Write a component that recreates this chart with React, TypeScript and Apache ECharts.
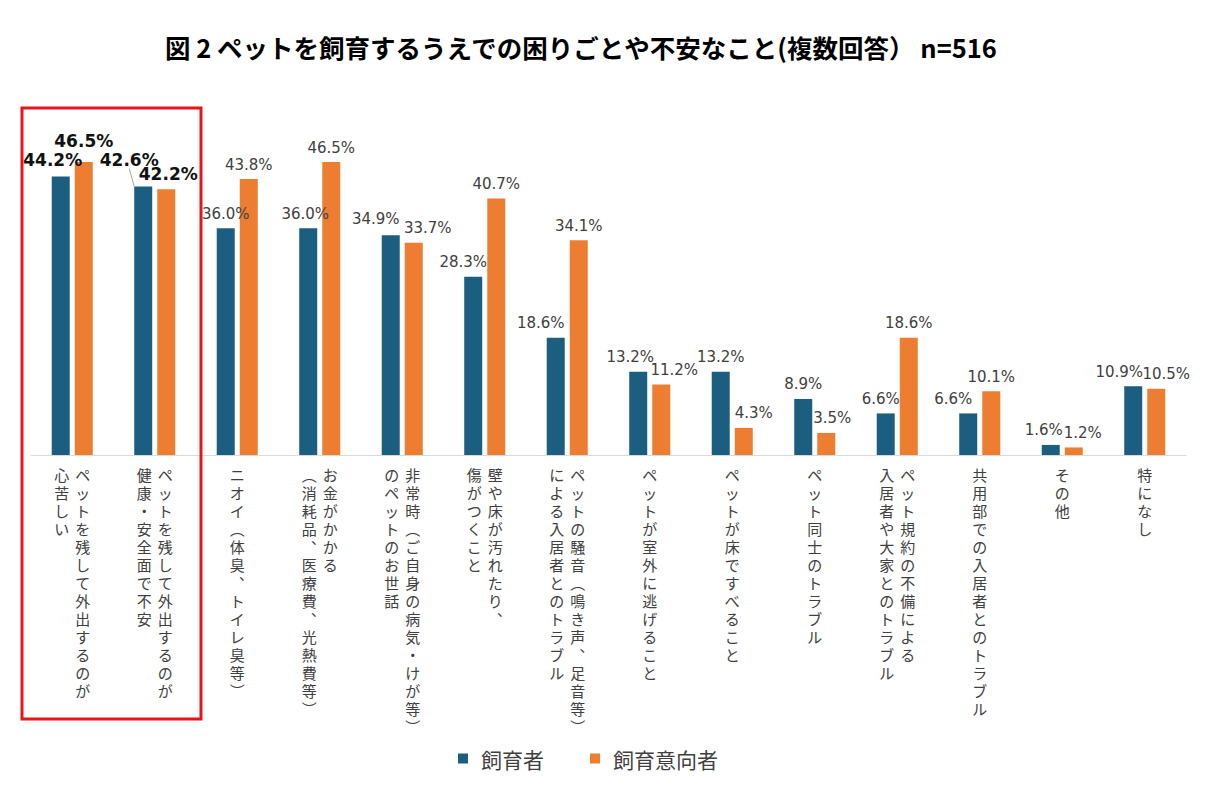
import React, { useEffect, useRef } from "react";
import * as echarts from "echarts";

const TITLE = "図 2 ペットを飼育するうえでの困りごとや不安なこと(複数回答） n=516";

// "\n" separates the two vertical columns (first = right column)
const categories = [
  "ペットを残して外出するのが\n心苦しい",
  "ペットを残して外出するのが\n健康・安全面で不安",
  "ニオイ（体臭、トイレ臭等）",
  "お金がかかる\n（消耗品、医療費、光熱費等）",
  "非常時（ご自身の病気・けが等）\nのペットのお世話",
  "壁や床が汚れたり、\n傷がつくこと",
  "ペットの騒音（鳴き声、足音等）\nによる入居者とのトラブル",
  "ペットが室外に逃げること",
  "ペットが床ですべること",
  "ペット同士のトラブル",
  "ペット規約の不備による\n入居者や大家とのトラブル",
  "共用部での入居者とのトラブル",
  "その他",
  "特になし",
];

const seriesNames = ["飼育者", "飼育意向者"];
const owners = [44.2, 42.6, 36.0, 36.0, 34.9, 28.3, 18.6, 13.2, 13.2, 8.9, 6.6, 6.6, 1.6, 10.9];
const prospective = [46.5, 42.2, 43.8, 46.5, 33.7, 40.7, 34.1, 11.2, 4.3, 3.5, 18.6, 10.1, 1.2, 10.5];

// label nudges (style only)
const ownersDX = [-8, -14, 0, -3, -15, -10, -15, -8, 0, 0, -5, -15, -7, -14];
const prospDX = [0, 2, 0, 0, 14, 0, 0, 13, 10, 6, 0, 0, 9, 10];
const ownersDY = [-1, -11, 0, 0, -2, 0, 0, 0, 0, 0, 0, 0, 0, 0];
const prospDY = [-6, 0, 0, 0, 0, 0, 0, 0, 0, 0, 0, 0, 0, 0];

const BLUE = "#1b5e80";
const ORANGE = "#ed7d31";
const TEXT = "#404040";
const FONT = "'Noto Sans CJK JP', 'Noto Sans', sans-serif";
const NUMFONT = "'DejaVu Sans', Verdana, sans-serif";

const VMAP: Record<string, string> = { "（": "︵", "）": "︶", "、": "︑" };

function verticalLabel(value: string): string {
  const cols = value.split("\n").map((c) => Array.from(c).map((ch) => VMAP[ch] || ch));
  const n = Math.max(...cols.map((c) => c.length));
  const lines: string[] = [];
  for (let i = 0; i < n; i++) {
    if (cols.length === 1) {
      lines.push(`{s|${cols[0][i] || "　"}}`);
    } else {
      lines.push(`{l|${cols[1][i] || "　"}}{r|${cols[0][i] || "　"}}`);
    }
  }
  return lines.join("\n");
}

export default function App() {
  const ref = useRef<HTMLDivElement>(null);
  useEffect(() => {
    if (!ref.current) return;
    const chart = echarts.init(ref.current, undefined, { renderer: "svg" });
    const colStyle = { fontSize: 15, lineHeight: 18, width: 21, align: "center", color: TEXT, fontFamily: FONT };
    const boldIdx = (i: number) => i < 2;
    const makeData = (vals: number[]) =>
      vals.map((v, i) => ({
        value: v,
        label: boldIdx(i)
          ? { fontSize: 17, fontWeight: "bold", color: "#111", fontFamily: NUMFONT }
          : undefined,
      }));
    const ownersData: any[] = makeData(owners);
    ownersData[1].labelLine = { show: true, lineStyle: { color: "#a6a6a6", width: 1 } };

    const labelBase = {
      show: true,
      position: "top",
      distance: 7,
      formatter: (p: any) => `${Number(p.value).toFixed(1)}%`,
      fontSize: 15,
      color: TEXT,
      fontFamily: NUMFONT,
    };

    chart.setOption({
      animation: false,
      title: {
        text: TITLE,
        left: 160,
        top: 29,
        textStyle: { fontSize: 25.5, fontWeight: "bold", color: "#000", fontFamily: FONT },
      },
      legend: {
        data: seriesNames,
        left: 453,
        top: 743,
        icon: "rect",
        itemWidth: 10,
        itemHeight: 10,
        itemGap: 46,
        textStyle: { fontSize: 21, color: TEXT, fontFamily: FONT, padding: [0, 0, 0, 8] },
      },
      grid: { left: 31, right: 20, top: 140, height: 315, containLabel: false },
      xAxis: {
        type: "category",
        data: categories,
        axisLine: { show: true, lineStyle: { color: "#d9d9d9", width: 1 } },
        axisTick: { show: false },
        axisLabel: {
          interval: 0,
          margin: 10,
          verticalAlign: "top",
          formatter: (v: string) => verticalLabel(v),
          rich: { s: colStyle, l: colStyle, r: colStyle },
        },
      },
      yAxis: { type: "value", min: 0, max: 50, show: false, splitLine: { show: false } },
      series: [
        {
          name: seriesNames[0],
          type: "bar",
          data: ownersData,
          barWidth: 18,
          barGap: "28%",
          itemStyle: { color: BLUE },
          label: labelBase,
          labelLine: { show: false },
          labelLayout: (p: any) => ({ dx: ownersDX[p.dataIndex], dy: ownersDY[p.dataIndex] }),
        },
        {
          name: seriesNames[1],
          type: "bar",
          data: makeData(prospective),
          barWidth: 18,
          barGap: "28%",
          itemStyle: { color: ORANGE },
          label: labelBase,
          labelLine: { show: false },
          labelLayout: (p: any) => ({ dx: prospDX[p.dataIndex], dy: prospDY[p.dataIndex] }),
        },
      ],
      graphic: [
        {
          type: "rect",
          shape: { x: 22, y: 108, width: 179, height: 611 },
          style: { fill: "none", stroke: "#e8141b", lineWidth: 3 },
          z: 100,
        },
      ],
    });
    return () => chart.dispose();
  }, []);
  return (
    <div
      ref={ref}
      style={{ position: "absolute", left: 0, top: 0, width: 1206, height: 790, background: "#fff" }}
    />
  );
}
